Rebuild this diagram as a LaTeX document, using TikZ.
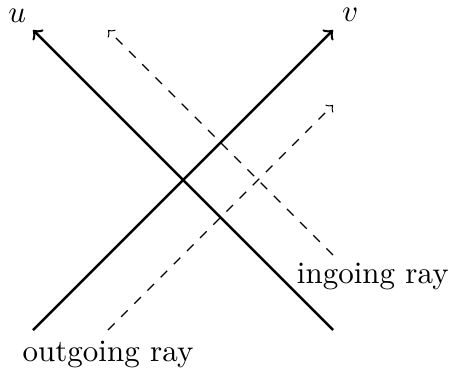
\documentclass[tikz,border=0pt]{standalone}
\begin{document}
\begin{tikzpicture}[x=0.85cm,y=0.85cm,
  axis/.style={thick,->},
  ray/.style={dashed,->}]
\useasboundingbox (-2.44,-2.507) rectangle (3.573,2.4);
\coordinate (vs) at (-2,-2);
\coordinate (ve) at (2,2);
\coordinate (us) at (2,-2);
\coordinate (ue) at (-2,2);
\coordinate (os) at (-1,-2);
\coordinate (oe) at (2,1);
\coordinate (is) at (2,-1);
\coordinate (ie) at (-1,2);
\draw[axis] (vs) -- (ve);
\draw[axis] (us) -- (ue);
\node (vl) at (2.23,2.2) {$v$};
\node (ul) at (-2.21,2.19) {$u$};
\draw[ray] (os) -- (oe);
\draw[ray] (is) -- (ie);
\node[below] (ol) at (os) {outgoing ray};
\node (il) at (2.53,-1.29) {ingoing ray};
\end{tikzpicture}
\end{document}
